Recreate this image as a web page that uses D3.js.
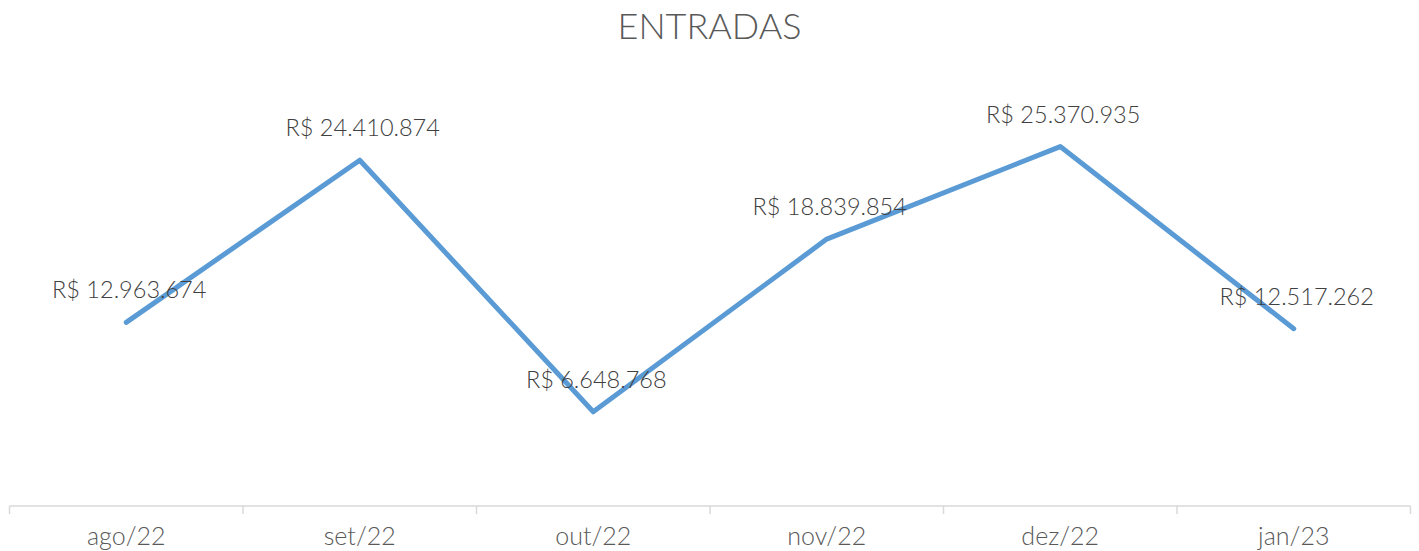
<!DOCTYPE html>
<html>
<head>
<meta charset="utf-8">
<script src="https://cdn.jsdelivr.net/npm/d3@7"></script>
<style>
  body { margin: 0; background: #fff; }
  svg text { font-family: Lato, "Open Sans", sans-serif; font-weight: 300; }
</style>
</head>
<body>
<div class="canvas"></div>
<script>
// data
const months = ['ago/22', 'set/22', 'out/22', 'nov/22', 'dez/22', 'jan/23'];
const entradas = [12963674, 24410874, 6648768, 18839854, 25370935, 12517262];
const yMax = 30000000;

const width = 1419;
const height = 551;

const svg = d3.select('.canvas')
    .append('svg')
        .attr('width', width)
        .attr('height', height);

// plot area
const margin = {top: 81, left: 9.5, right: 8.5, bottom: 45};
const graphWidth = width - margin.left - margin.right;
const graphHeight = height - margin.top - margin.bottom;

const graph = svg.append('g')
    .attr('transform', `translate(${margin.left}, ${margin.top})`);

// scales
const x = d3.scaleBand()
    .domain(months)
    .range([0, graphWidth]);

const y = d3.scaleLinear()
    .domain([0, yMax])
    .range([graphHeight, 0]);

// title
svg.append('text')
    .attr('x', width / 2)
    .attr('y', 39)
    .attr('text-anchor', 'middle')
    .attr('fill', '#595959')
    .style('font-size', '36px')
    .text('ENTRADAS');

// x axis with ticks between categories
const xAxisGroup = graph.append('g')
    .attr('transform', `translate(0, ${graphHeight})`);

xAxisGroup.append('line')
    .attr('x1', 0)
    .attr('x2', graphWidth)
    .attr('stroke', '#d9d9d9')
    .attr('stroke-width', 1.5);

const tickPos = months.map(m => x(m)).concat([graphWidth]);
xAxisGroup.selectAll('line.tick')
    .data(tickPos)
    .enter()
    .append('line')
        .attr('class', 'tick')
        .attr('x1', d => d)
        .attr('x2', d => d)
        .attr('y1', 0)
        .attr('y2', 8)
        .attr('stroke', '#d9d9d9')
        .attr('stroke-width', 1.5);

xAxisGroup.selectAll('text')
    .data(months)
    .enter()
    .append('text')
        .attr('x', d => x(d) + x.bandwidth() / 2)
        .attr('y', 39)
        .attr('text-anchor', 'middle')
        .attr('fill', '#595959')
        .style('font-size', '25px')
        .text(d => d);

// line
const line = d3.line()
    .x((d, i) => x(months[i]) + x.bandwidth() / 2)
    .y(d => y(d));

graph.append('path')
    .datum(entradas)
    .attr('fill', 'none')
    .attr('stroke', '#5b9bd5')
    .attr('stroke-width', 5)
    .attr('stroke-linecap', 'round')
    .attr('stroke-linejoin', 'round')
    .attr('d', line);

// data labels
const fmt = d3.formatLocale({decimal: ',', thousands: '.', grouping: [3], currency: ['R$ ', '']}).format(',.0f');

graph.selectAll('text.label')
    .data(entradas)
    .enter()
    .append('text')
        .attr('class', 'label')
        .attr('x', (d, i) => x(months[i]) + x.bandwidth() / 2 + 3)
        .attr('y', d => y(d) - 24)
        .attr('text-anchor', 'middle')
        .attr('fill', '#404040')
        .style('font-size', '23.5px')
        .text(d => 'R$ ' + fmt(d));
</script>
</body>
</html>
